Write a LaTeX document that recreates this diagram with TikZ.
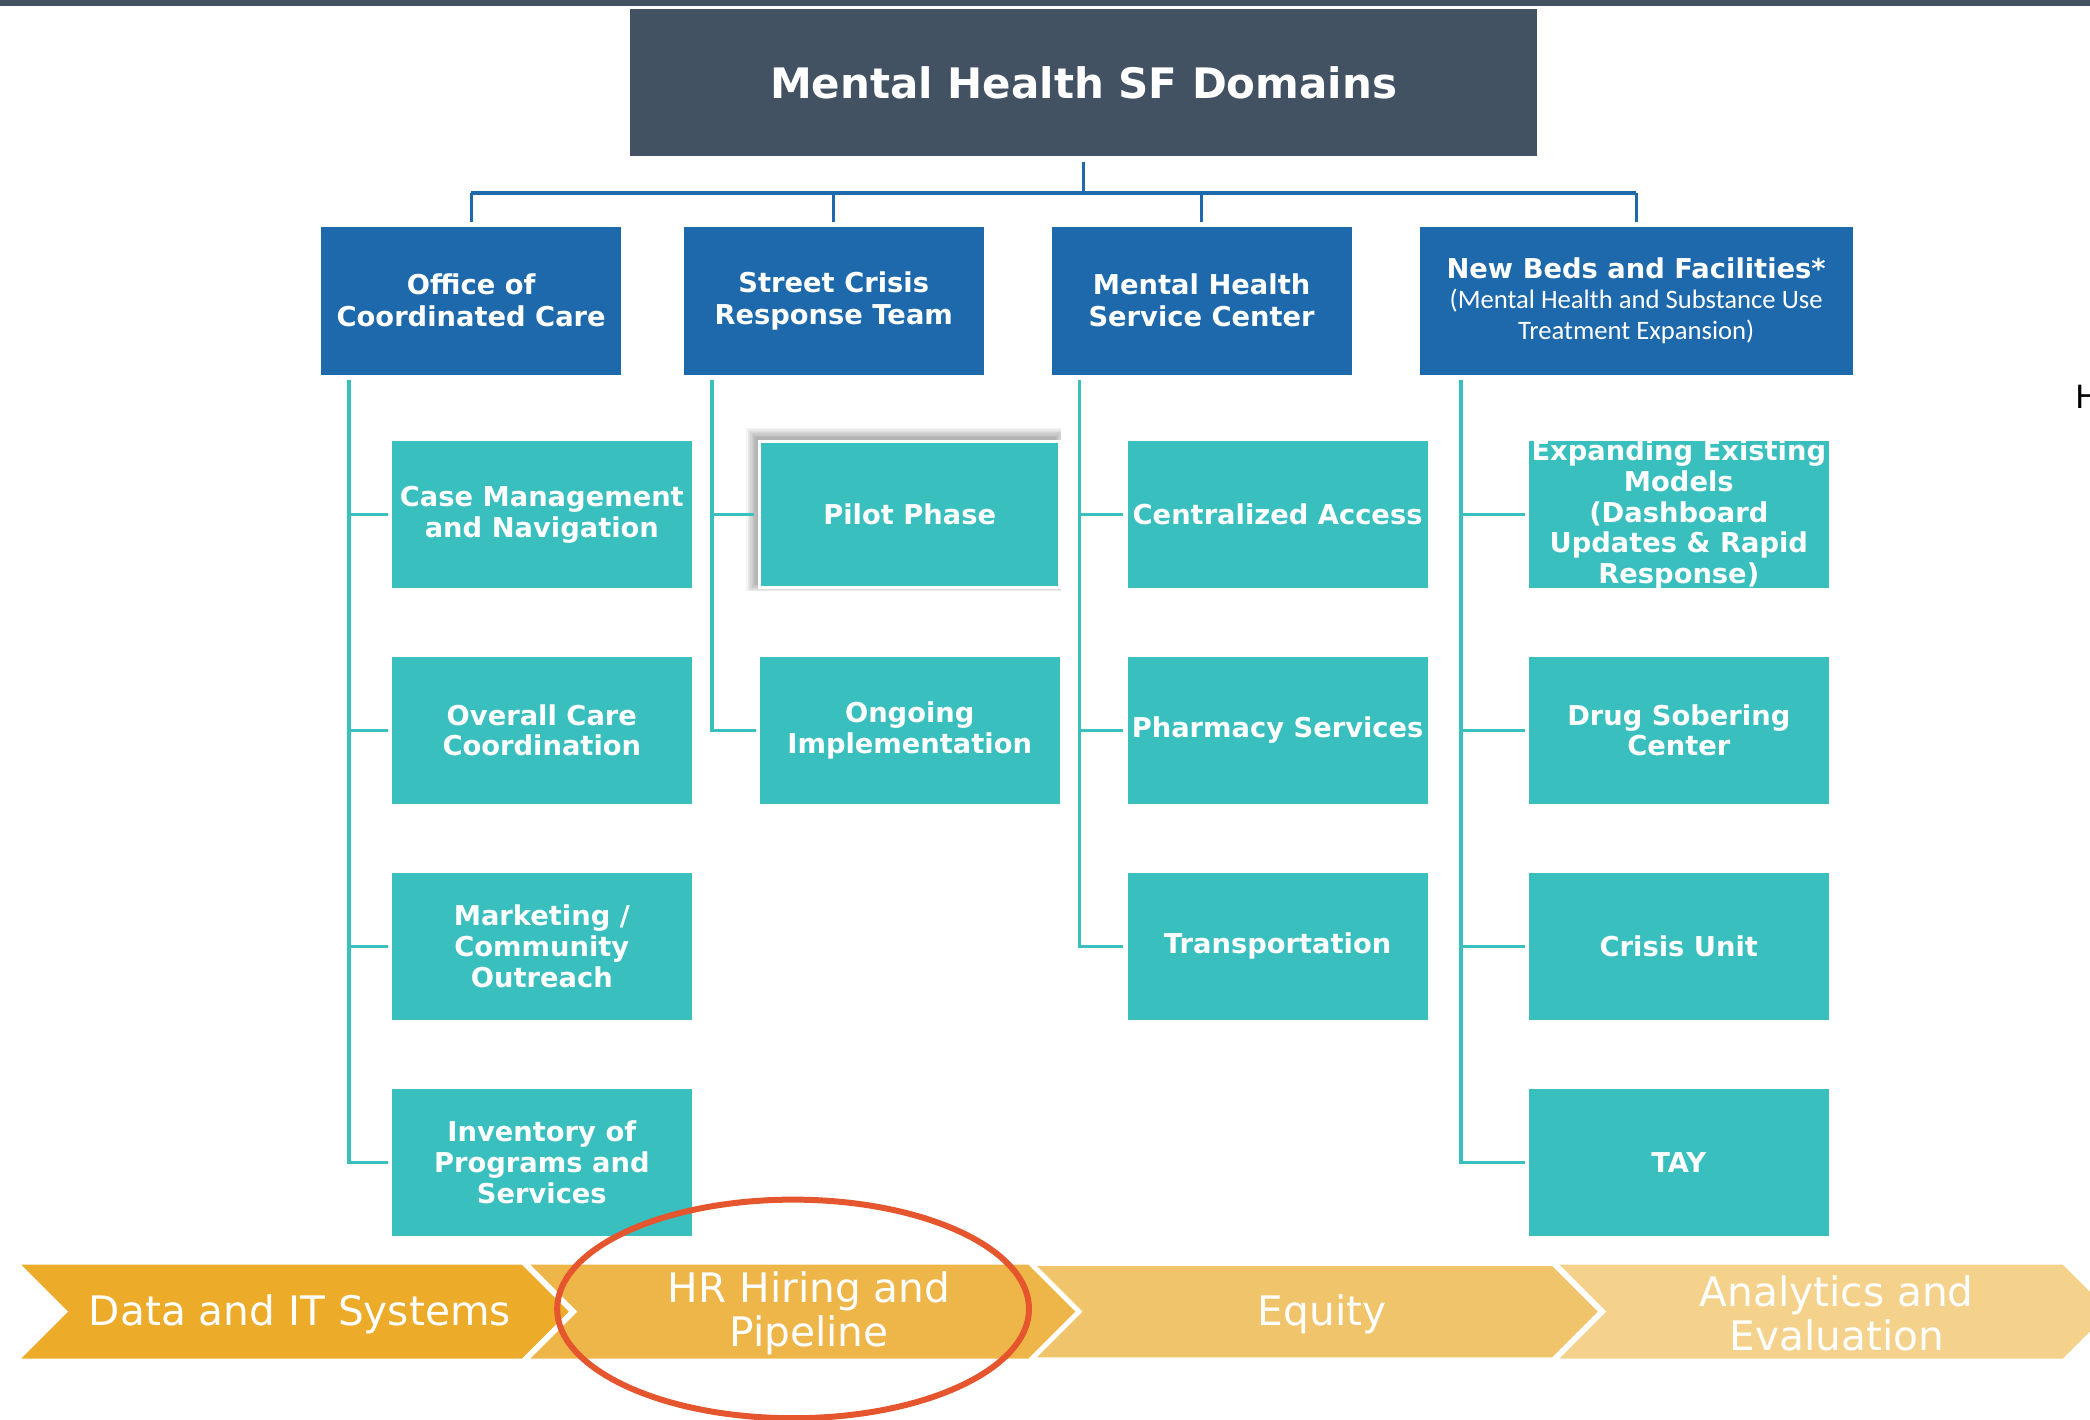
\documentclass[tikz,border=0pt]{standalone}
\usepackage{fontspec}
\setmainfont{DejaVu Sans}
\newfontfamily\carl{Carlito}
\usetikzlibrary{calc}
\definecolor{titlec}{RGB}{66,82,99}
\definecolor{bluec}{RGB}{29,105,171}
\definecolor{tealc}{RGB}{56,191,190}
\definecolor{chevA}{RGB}{237,171,42}
\definecolor{chevB}{RGB}{238,181,72}
\definecolor{chevC}{RGB}{240,196,106}
\definecolor{chevD}{RGB}{244,210,139}
\definecolor{redc}{RGB}{229,85,46}
\tikzset{
  titlebox/.style={fill=titlec, minimum width=680pt, minimum height=110pt, inner sep=0pt, text=white, font=\bfseries\fontsize{31.5}{36}\selectfont},
  l1box/.style={fill=bluec, minimum width=225pt, minimum height=111pt, inner sep=0pt, text=white, align=center, font=\bfseries\fontsize{20.5}{24}\selectfont},
  l2box/.style={fill=tealc, minimum width=225pt, minimum height=110pt, inner sep=0pt, text=white, align=center, font=\bfseries\fontsize{20.5}{23}\selectfont},
  bluethin/.style={draw=bluec, line width=2pt},
  bluethick/.style={draw=bluec, line width=3pt},
  tealline/.style={draw=tealc, line width=2.6pt},
  chevtext/.style={text=white, align=center, font=\fontsize{30.5}{33}\selectfont, inner sep=0pt},
  chevshape/.style={draw=white, line width=1.5pt},
}
\begin{document}
\begin{tikzpicture}[x=1pt,y=-1pt]
\useasboundingbox (0,0) rectangle (1568,1065);
\begin{scope}
\clip (0,0) rectangle (1568,1065);
% top bar
\fill[titlec] (0,0) rectangle (1568,4.5);
% title
\node[titlebox] (title) at (813,62) {Mental Health SF Domains};
% level 1
\node[l1box] (occ) at (353.5,225.5) {Office of\\Coordinated Care};
\node[l1box] (scrt) at (625.5,225.5) {Street Crisis\\Response Team};
\node[l1box] (mhsc) at (901.5,225.5) {Mental Health\\Service Center};
\node[l1box, minimum width=325pt] (nbf) at (1227.5,225.5) {New Beds and Facilities*\\[-1pt]{\mdseries\carl\fontsize{20}{24}\selectfont (Mental Health and Substance Use}\\[-1pt]{\mdseries\carl\fontsize{20}{24}\selectfont Treatment Expansion)}};
% connectors level 0-1
\coordinate (bus) at (813,145);
\draw[bluethin] ([yshift=-4pt]title.south) -- (bus);
\draw[bluethick] (occ.north |- bus) -- (nbf.north |- bus);
\foreach \n in {occ,scrt,mhsc,nbf}
  \draw[bluethin] (\n.north |- bus) -- ([yshift=3pt]\n.north);
% pilot shadow (soft)
\begin{scope}
\clip (550,310) rectangle (796,443);
\foreach \r in {0,...,7}
  \fill[black, opacity=0.045] (567-\r,328-\r) rectangle (792+\r,438+\r);
\end{scope}
% level 2, column 1
\node[l2box] (cm) at (406.5,386) {Case Management\\and Navigation};
\node[l2box] (oc) at (406.5,548) {Overall Care\\Coordination};
\node[l2box] (mk) at (406.5,710) {Marketing /\\Community\\Outreach};
\node[l2box] (inv) at (406.5,872) {Inventory of\\Programs and\\Services};
% column 2
\node[l2box, draw=white, line width=2.5pt] (pilot) at (682.5,386) {Pilot Phase};
\node[l2box] (ongo) at (682.5,548) {Ongoing\\Implementation};
% column 3
\node[l2box] (ca) at (958.5,386) {Centralized Access};
\node[l2box] (ph) at (958.5,548) {Pharmacy Services};
\node[l2box] (tr) at (958.5,710) {Transportation};
% column 4
\node[l2box, inner ysep=-4pt] (exp) at (1259.5,386) {Expanding Existing\\Models\\(Dashboard\\Updates \& Rapid\\Response)};
\node[l2box] (dsc) at (1259.5,548) {Drug Sobering\\Center};
\node[l2box] (cu) at (1259.5,710) {Crisis Unit};
\node[l2box] (tay) at (1259.5,872) {TAY};
% spines
\coordinate (s1) at (262,285);
\coordinate (s2) at (534,285);
\coordinate (s3) at (810,285);
\coordinate (s4) at (1096,285);
\foreach \c in {cm,oc,mk,inv} \draw[tealline] (s1) |- ([xshift=-3pt]\c.west);
\foreach \c in {pilot,ongo} \draw[tealline] (s2) |- ([xshift=-3pt]\c.west);
\foreach \c in {ca,ph,tr} \draw[tealline] (s3) |- ([xshift=-3pt]\c.west);
\foreach \c in {exp,dsc,cu,tay} \draw[tealline] (s4) |- ([xshift=-3pt]\c.west);
% chevrons
\path[fill=chevA, chevshape] (14,948) -- (392,948) -- (428,984) -- (392,1020) -- (14,1020) -- (50,984) -- cycle;
\path[fill=chevB, chevshape] (396,948) -- (772,948) -- (808,984) -- (772,1020) -- (396,1020) -- (432,984) -- cycle;
\path[fill=chevC, chevshape] (776,949) -- (1165,949) -- (1200,984) -- (1165,1019) -- (776,1019) -- (811,984) -- cycle;
\path[fill=chevD, chevshape] (1168,948) -- (1548,948) -- (1584,984) -- (1548,1020) -- (1168,1020) -- (1204,984) -- cycle;
\node[chevtext] (data) at (225,986) {Data and IT Systems};
\node[chevtext] (hr) at (607,985) {HR Hiring and\\Pipeline};
\node[chevtext] (eq) at (992,986) {Equity};
\node[chevtext] (ana) at (1378,985) {Analytics and\\Evaluation};
% red ellipse
\draw[redc, line width=4.5pt] (595,982) ellipse [x radius=177, y radius=82];
% partial letter at right edge
\node[anchor=west, inner sep=0pt, font=\fontsize{24}{28}\selectfont] (hpart) at (1557,298) {H};
\end{scope}
\end{tikzpicture}
\end{document}
